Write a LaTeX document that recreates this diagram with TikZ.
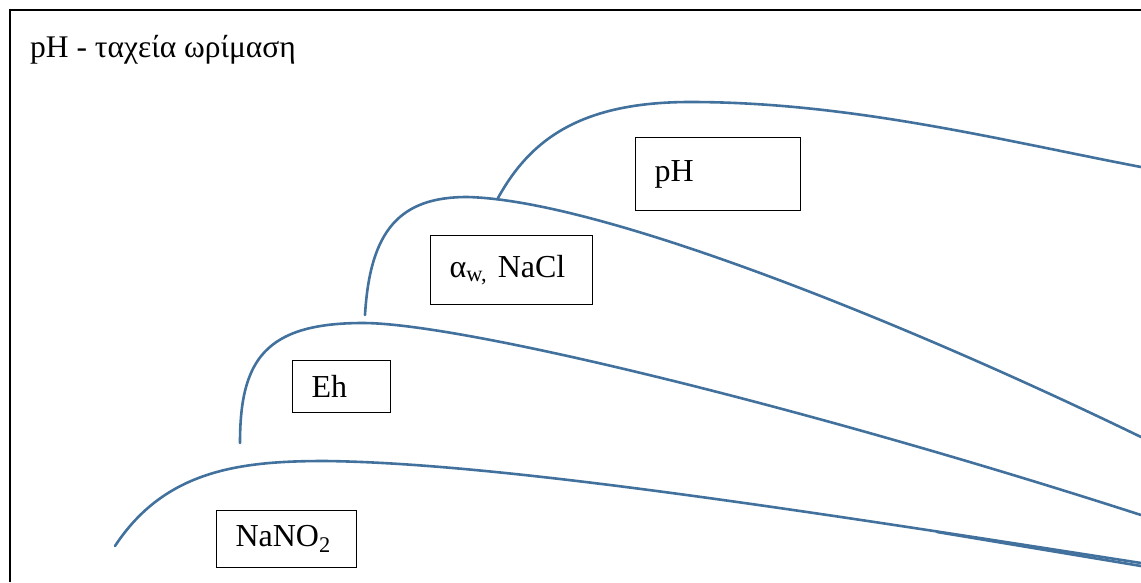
\documentclass[tikz,border=0pt]{standalone}
\usepackage{fontspec}
\setmainfont{Liberation Serif}
\definecolor{curveblue}{RGB}{65,113,156}
\begin{document}
\begin{tikzpicture}[x=1pt,y=-1pt,
  curve/.style={draw=curveblue,line width=2.6pt,line cap=round},
  labelbox/.style={draw=black,line width=1.1pt,anchor=north west,inner xsep=19pt,inner ysep=0pt,align=left,font=\fontsize{32}{36}\selectfont},
  frameline/.style={draw=black,line width=1.4pt}]
\useasboundingbox (0,0) rectangle (1141,582);
\draw[frameline] (10,582) -- (10,10) -- (1141,10);
\node[anchor=base west,inner sep=0pt,font=\fontsize{31.5}{36}\selectfont] (title) at (30,57) {pH - ταχεία ωρίμαση};
% curves
\draw[curve] (115,546) .. controls (165,470) and (240,461) .. (325,461)
  .. controls (500,463) and (800,510) .. (1141,563);
\draw[curve] (937,532) -- (1141,566);
\draw[curve] (240,443) .. controls (240,360) and (265,323) .. (363,323)
  .. controls (460,323) and (800,405) .. (1141,515);
\draw[curve] (365,315) .. controls (370,230) and (400,197) .. (467,197)
  .. controls (600,200) and (900,320) .. (1141,437);
\draw[curve] (498,198) .. controls (530,140) and (580,102) .. (690,102)
  .. controls (850,102) and (1000,140) .. (1141,167);
% boxes
\node[labelbox,text width=127pt,minimum height=73pt] (ph) at (635,137) {pH};
\node[labelbox,text width=124pt,minimum height=69pt] (aw) at (430,235) {α\textsubscript{w, }NaCl};
\node[labelbox,text width=60pt,minimum height=52pt] (eh) at (292,360) {Eh};
\node[labelbox,text width=102pt,minimum height=57pt] (nano) at (216,510) {NaNO\textsubscript{2}};
\end{tikzpicture}
\end{document}
